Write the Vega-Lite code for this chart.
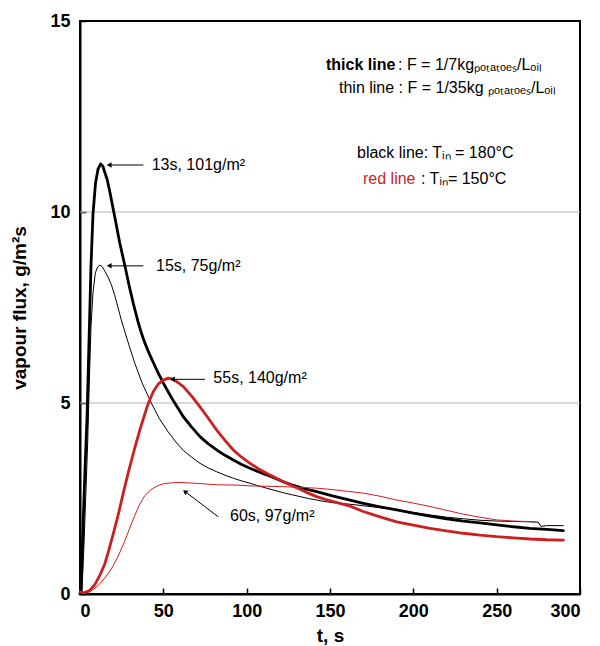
{
  "$schema": "https://vega.github.io/schema/vega-lite/v6.json",
  "width": 500,
  "height": 573,
  "autosize": {"type": "none"},
  "padding": {"left": 80, "top": 21, "right": 20, "bottom": 52},
  "config": {
    "font": "Liberation Sans",
    "view": {"stroke": "black", "strokeWidth": 2},
    "axis": {
      "grid": false,
      "domainColor": "black",
      "domainWidth": 2,
      "tickColor": "black",
      "tickWidth": 1.5,
      "tickSize": -6,
      "labelFont": "Liberation Sans",
      "labelFontWeight": "bold",
      "labelFontSize": 18,
      "labelColor": "black",
      "titleFont": "Liberation Sans",
      "titleFontWeight": "bold",
      "titleFontSize": 19,
      "titleColor": "black"
    }
  },
  "datasets": {
    "curves": [
      {"s":"thin180","t":0,"v":0},{"s":"thin180","t":1.2,"v":0.1},{"s":"thin180","t":2.3,"v":1.2},{"s":"thin180","t":3.4,"v":2.5},{"s":"thin180","t":4.6,"v":3.95},{"s":"thin180","t":5.6,"v":5.6},{"s":"thin180","t":6.6,"v":7.0},{"s":"thin180","t":7.8,"v":7.9},{"s":"thin180","t":9.2,"v":8.4},{"s":"thin180","t":10.5,"v":8.56},{"s":"thin180","t":11.9,"v":8.61},{"s":"thin180","t":13.3,"v":8.57},{"s":"thin180","t":14.8,"v":8.46},{"s":"thin180","t":16.8,"v":8.3},{"s":"thin180","t":18.8,"v":8.1},{"s":"thin180","t":20.8,"v":7.82},{"s":"thin180","t":22.8,"v":7.5},{"s":"thin180","t":24.8,"v":7.17},{"s":"thin180","t":26.8,"v":6.88},{"s":"thin180","t":29.5,"v":6.5},{"s":"thin180","t":32.8,"v":6.05},{"s":"thin180","t":37.5,"v":5.5},{"s":"thin180","t":42.8,"v":5.0},{"s":"thin180","t":47.5,"v":4.6},{"s":"thin180","t":52.8,"v":4.25},{"s":"thin180","t":57.5,"v":3.98},{"s":"thin180","t":62,"v":3.76},{"s":"thin180","t":67,"v":3.58},{"s":"thin180","t":72,"v":3.42},{"s":"thin180","t":77,"v":3.3},{"s":"thin180","t":82,"v":3.2},{"s":"thin180","t":87,"v":3.11},{"s":"thin180","t":92,"v":3.03},{"s":"thin180","t":97,"v":2.96},{"s":"thin180","t":102,"v":2.9},{"s":"thin180","t":107,"v":2.83},{"s":"thin180","t":112,"v":2.77},{"s":"thin180","t":117,"v":2.71},{"s":"thin180","t":122,"v":2.65},{"s":"thin180","t":127,"v":2.6},{"s":"thin180","t":132,"v":2.55},{"s":"thin180","t":137,"v":2.5},{"s":"thin180","t":142,"v":2.46},{"s":"thin180","t":147,"v":2.42},{"s":"thin180","t":152,"v":2.39},{"s":"thin180","t":162,"v":2.35},{"s":"thin180","t":170,"v":2.31},{"s":"thin180","t":180,"v":2.26},{"s":"thin180","t":190,"v":2.21},{"s":"thin180","t":200,"v":2.13},{"s":"thin180","t":210,"v":2.07},{"s":"thin180","t":220,"v":2.01},{"s":"thin180","t":230,"v":1.97},{"s":"thin180","t":240,"v":1.93},{"s":"thin180","t":250,"v":1.91},{"s":"thin180","t":260,"v":1.9},{"s":"thin180","t":270,"v":1.89},{"s":"thin180","t":275,"v":1.88},{"s":"thin180","t":276.5,"v":1.77},{"s":"thin180","t":280,"v":1.79},{"s":"thin180","t":290,"v":1.79},
      {"s":"thick180","t":0,"v":0},{"s":"thick180","t":0.6,"v":0.05},{"s":"thick180","t":2,"v":2.0},{"s":"thick180","t":3.2,"v":3.5},{"s":"thick180","t":4.2,"v":4.6},{"s":"thick180","t":5.4,"v":6.6},{"s":"thick180","t":6.6,"v":8.6},{"s":"thick180","t":7.8,"v":9.95},{"s":"thick180","t":9.3,"v":10.75},{"s":"thick180","t":10.8,"v":11.12},{"s":"thick180","t":12.4,"v":11.26},{"s":"thick180","t":13.7,"v":11.2},{"s":"thick180","t":14.8,"v":11.05},{"s":"thick180","t":16.3,"v":10.85},{"s":"thick180","t":17.8,"v":10.55},{"s":"thick180","t":20.8,"v":9.88},{"s":"thick180","t":23.8,"v":9.2},{"s":"thick180","t":26.8,"v":8.62},{"s":"thick180","t":29.5,"v":8.07},{"s":"thick180","t":32,"v":7.6},{"s":"thick180","t":34.8,"v":7.13},{"s":"thick180","t":36.5,"v":6.88},{"s":"thick180","t":38.5,"v":6.62},{"s":"thick180","t":40.5,"v":6.4},{"s":"thick180","t":42.5,"v":6.2},{"s":"thick180","t":46,"v":5.87},{"s":"thick180","t":50,"v":5.52},{"s":"thick180","t":55,"v":5.13},{"s":"thick180","t":62,"v":4.64},{"s":"thick180","t":67,"v":4.37},{"s":"thick180","t":72,"v":4.12},{"s":"thick180","t":77,"v":3.93},{"s":"thick180","t":82,"v":3.77},{"s":"thick180","t":87,"v":3.63},{"s":"thick180","t":92,"v":3.51},{"s":"thick180","t":97,"v":3.39},{"s":"thick180","t":102,"v":3.29},{"s":"thick180","t":107,"v":3.2},{"s":"thick180","t":112,"v":3.12},{"s":"thick180","t":117,"v":3.03},{"s":"thick180","t":122,"v":2.94},{"s":"thick180","t":127,"v":2.86},{"s":"thick180","t":132,"v":2.79},{"s":"thick180","t":137,"v":2.73},{"s":"thick180","t":142,"v":2.68},{"s":"thick180","t":147,"v":2.62},{"s":"thick180","t":152,"v":2.56},{"s":"thick180","t":162,"v":2.46},{"s":"thick180","t":170,"v":2.37},{"s":"thick180","t":180,"v":2.28},{"s":"thick180","t":190,"v":2.2},{"s":"thick180","t":200,"v":2.12},{"s":"thick180","t":210,"v":2.04},{"s":"thick180","t":220,"v":1.97},{"s":"thick180","t":230,"v":1.91},{"s":"thick180","t":240,"v":1.86},{"s":"thick180","t":250,"v":1.81},{"s":"thick180","t":260,"v":1.76},{"s":"thick180","t":270,"v":1.72},{"s":"thick180","t":280,"v":1.69},{"s":"thick180","t":290,"v":1.66},
      {"s":"thin150","t":0,"v":0.08},{"s":"thin150","t":2.8,"v":0.02},{"s":"thin150","t":5,"v":0.04},{"s":"thin150","t":8,"v":0.12},{"s":"thin150","t":10.8,"v":0.22},{"s":"thin150","t":14.5,"v":0.4},{"s":"thin150","t":18.8,"v":0.65},{"s":"thin150","t":22.8,"v":0.98},{"s":"thin150","t":26.8,"v":1.38},{"s":"thin150","t":29.8,"v":1.72},{"s":"thin150","t":32.8,"v":2.05},{"s":"thin150","t":35.8,"v":2.35},{"s":"thin150","t":38.8,"v":2.57},{"s":"thin150","t":42.5,"v":2.73},{"s":"thin150","t":46.8,"v":2.84},{"s":"thin150","t":50.5,"v":2.89},{"s":"thin150","t":54.8,"v":2.91},{"s":"thin150","t":60,"v":2.92},{"s":"thin150","t":68.8,"v":2.9},{"s":"thin150","t":82,"v":2.86},{"s":"thin150","t":94.8,"v":2.85},{"s":"thin150","t":102,"v":2.83},{"s":"thin150","t":122,"v":2.81},{"s":"thin150","t":142,"v":2.77},{"s":"thin150","t":150,"v":2.74},{"s":"thin150","t":162,"v":2.68},{"s":"thin150","t":170,"v":2.64},{"s":"thin150","t":180,"v":2.56},{"s":"thin150","t":190,"v":2.46},{"s":"thin150","t":200,"v":2.38},{"s":"thin150","t":210,"v":2.29},{"s":"thin150","t":220,"v":2.19},{"s":"thin150","t":230,"v":2.09},{"s":"thin150","t":240,"v":2.01},{"s":"thin150","t":250,"v":1.94},{"s":"thin150","t":260,"v":1.91},{"s":"thin150","t":273,"v":1.89},
      {"s":"thick150","t":0,"v":0.05},{"s":"thick150","t":2.8,"v":0.03},{"s":"thick150","t":6,"v":0.1},{"s":"thick150","t":9,"v":0.25},{"s":"thick150","t":12,"v":0.5},{"s":"thick150","t":14.8,"v":0.78},{"s":"thick150","t":17,"v":1.1},{"s":"thick150","t":19.5,"v":1.5},{"s":"thick150","t":22.8,"v":2.05},{"s":"thick150","t":26,"v":2.65},{"s":"thick150","t":28.8,"v":3.15},{"s":"thick150","t":31.5,"v":3.6},{"s":"thick150","t":33.8,"v":3.97},{"s":"thick150","t":36.5,"v":4.38},{"s":"thick150","t":38.8,"v":4.7},{"s":"thick150","t":40.8,"v":4.97},{"s":"thick150","t":44,"v":5.3},{"s":"thick150","t":47,"v":5.5},{"s":"thick150","t":50,"v":5.6},{"s":"thick150","t":53,"v":5.65},{"s":"thick150","t":56,"v":5.62},{"s":"thick150","t":59,"v":5.53},{"s":"thick150","t":62,"v":5.43},{"s":"thick150","t":67,"v":5.18},{"s":"thick150","t":72,"v":4.9},{"s":"thick150","t":77,"v":4.6},{"s":"thick150","t":82,"v":4.29},{"s":"thick150","t":87,"v":4.02},{"s":"thick150","t":92,"v":3.77},{"s":"thick150","t":97,"v":3.58},{"s":"thick150","t":102,"v":3.42},{"s":"thick150","t":107,"v":3.28},{"s":"thick150","t":112,"v":3.16},{"s":"thick150","t":117,"v":3.05},{"s":"thick150","t":122,"v":2.94},{"s":"thick150","t":127,"v":2.84},{"s":"thick150","t":132,"v":2.74},{"s":"thick150","t":137,"v":2.64},{"s":"thick150","t":142,"v":2.55},{"s":"thick150","t":147,"v":2.48},{"s":"thick150","t":152,"v":2.42},{"s":"thick150","t":162,"v":2.3},{"s":"thick150","t":170,"v":2.16},{"s":"thick150","t":180,"v":2.02},{"s":"thick150","t":190,"v":1.89},{"s":"thick150","t":200,"v":1.8},{"s":"thick150","t":210,"v":1.72},{"s":"thick150","t":220,"v":1.65},{"s":"thick150","t":230,"v":1.59},{"s":"thick150","t":240,"v":1.54},{"s":"thick150","t":250,"v":1.5},{"s":"thick150","t":260,"v":1.47},{"s":"thick150","t":270,"v":1.44},{"s":"thick150","t":280,"v":1.42},{"s":"thick150","t":290,"v":1.41}
    ],
    "grid": [{"v": 5}, {"v": 10}],
    "arrows": [
      {"t": 17, "v": 11.23, "t2": 38, "v2": 11.23},
      {"t": 17, "v": 8.59, "t2": 38, "v2": 8.59},
      {"t": 55, "v": 5.62, "t2": 75, "v2": 5.62},
      {"t": 62.5, "v": 2.7, "t2": 83, "v2": 2.02}
    ],
    "heads": [
      {"t": 17.5, "v": 11.23},
      {"t": 17.5, "v": 8.59},
      {"t": 55.5, "v": 5.62}
    ],
    "diaghead": [{"t": 63, "v": 2.68}],
    "notes": [
      {"t": 43, "v": 11.1, "label": "13s, 101g/m²"},
      {"t": 45.6, "v": 8.46, "label": "15s, 75g/m²"},
      {"t": 80, "v": 5.52, "label": "55s, 140g/m²"},
      {"t": 90, "v": 1.92, "label": "60s, 97g/m²"},
      {"t": 190.8, "v": 13.72, "label": ": F = 1/7kgₚₒₜₐₜₒₑₛ/Lₒᵢₗ"},
      {"t": 155.4, "v": 13.12, "label": "thin line : F = 1/35kg ₚₒₜₐₜₒₑₛ/Lₒᵢₗ"},
      {"t": 166.2, "v": 11.41, "label": "black line: Tᵢₙ = 180°C"},
      {"t": 204.6, "v": 10.73, "label": ": Tᵢₙ= 150°C"}
    ],
    "boldnotes": [{"t": 147.6, "v": 13.72, "label": "thick line"}],
    "rednotes": [{"t": 169.8, "v": 10.73, "label": "red line"}]
  },
  "layer": [
    {
      "data": {"name": "grid"},
      "mark": {"type": "rule", "color": "#b5b5b5", "strokeWidth": 1},
      "encoding": {
        "y": {"field": "v", "type": "quantitative", "scale": {"domain": [0, 15], "nice": false}}
      }
    },
    {
      "data": {"name": "curves"},
      "mark": {"type": "line", "strokeJoin": "round", "strokeCap": "round"},
      "encoding": {
        "x": {"field": "t", "type": "quantitative", "scale": {"domain": [0, 300], "nice": false},
              "axis": {"values": [0, 50, 100, 150, 200, 250, 300], "title": "t, s", "labelPadding": 14, "titlePadding": 6}},
        "y": {"field": "v", "type": "quantitative", "scale": {"domain": [0, 15], "nice": false},
              "axis": {"values": [0, 5, 10, 15], "title": "vapour flux, g/m²s", "labelPadding": 16, "titlePadding": 20}},
        "color": {"field": "s", "type": "nominal", "legend": null,
                  "scale": {"domain": ["thin180", "thick180", "thin150", "thick150"], "range": ["black", "black", "#cc1f1f", "#cc1f1f"]}},
        "strokeWidth": {"field": "s", "type": "nominal", "legend": null,
                  "scale": {"type": "ordinal", "domain": ["thin180", "thick180", "thin150", "thick150"], "range": [1, 2.8, 1, 2.8]}}
      }
    },
    {
      "data": {"name": "arrows"},
      "mark": {"type": "rule", "color": "black", "strokeWidth": 1},
      "encoding": {
        "x": {"field": "t", "type": "quantitative"},
        "y": {"field": "v", "type": "quantitative"},
        "x2": {"field": "t2"},
        "y2": {"field": "v2"}
      }
    },
    {
      "data": {"name": "heads"},
      "mark": {"type": "point", "shape": "triangle-left", "filled": true, "color": "black", "size": 30, "opacity": 1},
      "encoding": {
        "x": {"field": "t", "type": "quantitative"},
        "y": {"field": "v", "type": "quantitative"}
      }
    },
    {
      "data": {"name": "diaghead"},
      "mark": {"type": "point", "shape": "triangle-up", "angle": 307, "filled": true, "color": "black", "size": 30, "opacity": 1},
      "encoding": {
        "x": {"field": "t", "type": "quantitative"},
        "y": {"field": "v", "type": "quantitative"}
      }
    },
    {
      "data": {"name": "notes"},
      "mark": {"type": "text", "align": "left", "baseline": "alphabetic", "fontSize": 16, "font": "Liberation Sans", "color": "black"},
      "encoding": {
        "x": {"field": "t", "type": "quantitative"},
        "y": {"field": "v", "type": "quantitative"},
        "text": {"field": "label"}
      }
    },
    {
      "data": {"name": "boldnotes"},
      "mark": {"type": "text", "align": "left", "baseline": "alphabetic", "fontSize": 16, "fontWeight": "bold", "font": "Liberation Sans", "color": "black"},
      "encoding": {
        "x": {"field": "t", "type": "quantitative"},
        "y": {"field": "v", "type": "quantitative"},
        "text": {"field": "label"}
      }
    },
    {
      "data": {"name": "rednotes"},
      "mark": {"type": "text", "align": "left", "baseline": "alphabetic", "fontSize": 16, "font": "Liberation Sans", "color": "#cc1f1f"},
      "encoding": {
        "x": {"field": "t", "type": "quantitative"},
        "y": {"field": "v", "type": "quantitative"},
        "text": {"field": "label"}
      }
    }
  ]
}
